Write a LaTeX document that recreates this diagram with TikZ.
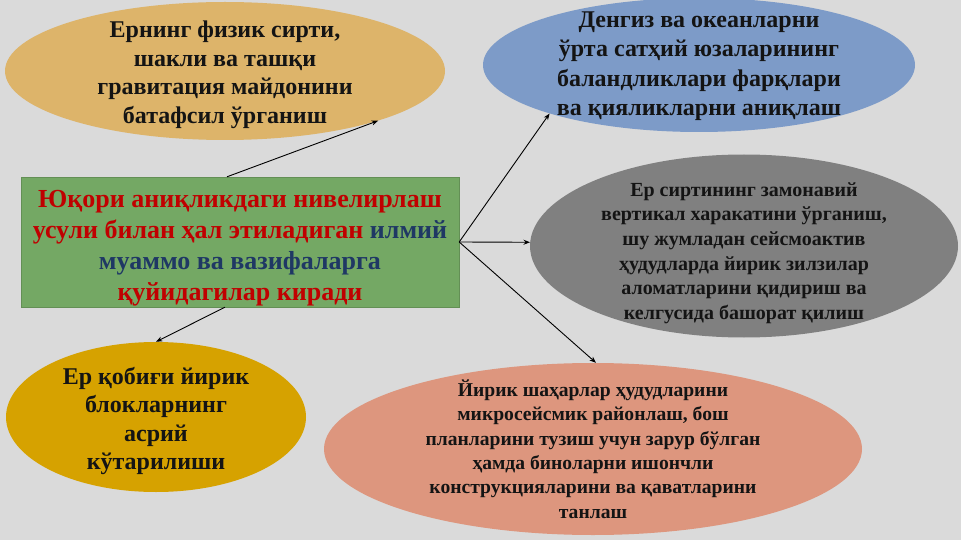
\documentclass[tikz,border=0pt]{standalone}
\usepackage{fontspec}
\setmainfont{Liberation Serif}
\usetikzlibrary{shapes.geometric,arrows.meta}
\definecolor{bg}{HTML}{DADADA}
\definecolor{cTan}{HTML}{DDB46A}
\definecolor{cBlue}{HTML}{7D9BC8}
\definecolor{cGreen}{HTML}{74A864}
\definecolor{cGray}{HTML}{808080}
\definecolor{cYellow}{HTML}{D6A200}
\definecolor{cSalmon}{HTML}{DD967E}
\definecolor{txt}{HTML}{141414}
\definecolor{tRed}{HTML}{C00000}
\definecolor{tBlue}{HTML}{1F3864}
\begin{document}
\begin{tikzpicture}[x=1pt,y=-1pt,
  blob/.style={ellipse, inner sep=0pt, draw=none},
  lbl/.style={align=center, text=txt, inner sep=0pt},
  conn/.style={draw=black, line width=0.9pt, -{Stealth[length=6.5pt,width=5pt]}}]
\fill[bg] (0,0) rectangle (961,540);
\useasboundingbox (0,0) rectangle (961,540);

% shapes
\node[blob, fill=cTan, minimum width=440pt, minimum height=138pt] (tl) at (225,71) {};
\node[blob, fill=cBlue, minimum width=432pt, minimum height=134pt] (tr) at (699,65) {};
\node[blob, fill=cGray, minimum width=428pt, minimum height=183pt] (gr) at (744,246) {};
\node[blob, fill=cYellow, minimum width=300pt, minimum height=150pt] (yl) at (156,417) {};
\node[blob, fill=cSalmon, minimum width=538pt, minimum height=172pt] (sa) at (593,449) {};
\node[rectangle, fill=cGreen, draw=cGreen!85!black, line width=0.4pt, minimum width=438pt, minimum height=130pt, inner sep=0pt] (rc) at (240,242) {};

% texts
\node[lbl, font=\fontsize{24}{28.5}\selectfont\bfseries] (tltext) at (225,75)
  {Ернинг физик сирти,\\шакли ва ташқи\\гравитация майдонини\\батафсил ўрганиш};
\node[lbl, font=\fontsize{24}{29.5}\selectfont\bfseries] (trtext) at (699,66)
  {Денгиз ва океанларни\\ўрта сатҳий юзаларининг\\баландликлари фарқлари\\ва қияликларни аниқлаш};
\node[lbl, font=\fontsize{26}{31}\selectfont\bfseries] (rctext) at (240,248)
  {\textcolor{tRed}{Юқори аниқликдаги нивелирлаш}\\\textcolor{tRed}{усули билан ҳал этиладиган} \textcolor{tBlue}{илмий}\\\textcolor{tBlue}{муаммо ва вазифаларга}\\\textcolor{tRed}{қуйидагилар киради}};
\node[lbl, font=\fontsize{20}{24.6}\selectfont\bfseries] (grtext) at (744,253)
  {Ер сиртининг замонавий\\вертикал харакатини ўрганиш,\\шу жумладан сейсмоактив\\ҳудудларда йирик зилзилар\\аломатларини қидириш ва\\келгусида башорат қилиш};
\node[lbl, font=\fontsize{24}{28.5}\selectfont\bfseries] (yltext) at (156,421)
  {Ер қобиғи йирик\\блокларнинг\\асрий\\кўтарилиши};
\node[lbl, font=\fontsize{19.6}{24.3}\selectfont\bfseries] (satext) at (593,449)
  {Йирик шаҳарлар ҳудудларини\\микросейсмик районлаш, бош\\планларини тузиш учун зарур бўлган\\ҳамда биноларни ишончли\\конструкцияларини ва қаватларини\\танлаш};

% connectors
\draw[conn] ([xshift=-13pt]rc.north) -- (tl.-18.4);
\draw[conn] (rc.east) -- (tr.-162.9);
\draw[conn] (rc.east) -- (gr.179);
\draw[conn] (rc.east) -- (sa.88);
\draw[conn] ([xshift=-15pt]rc.south) -- (yl.north);
\end{tikzpicture}
\end{document}
